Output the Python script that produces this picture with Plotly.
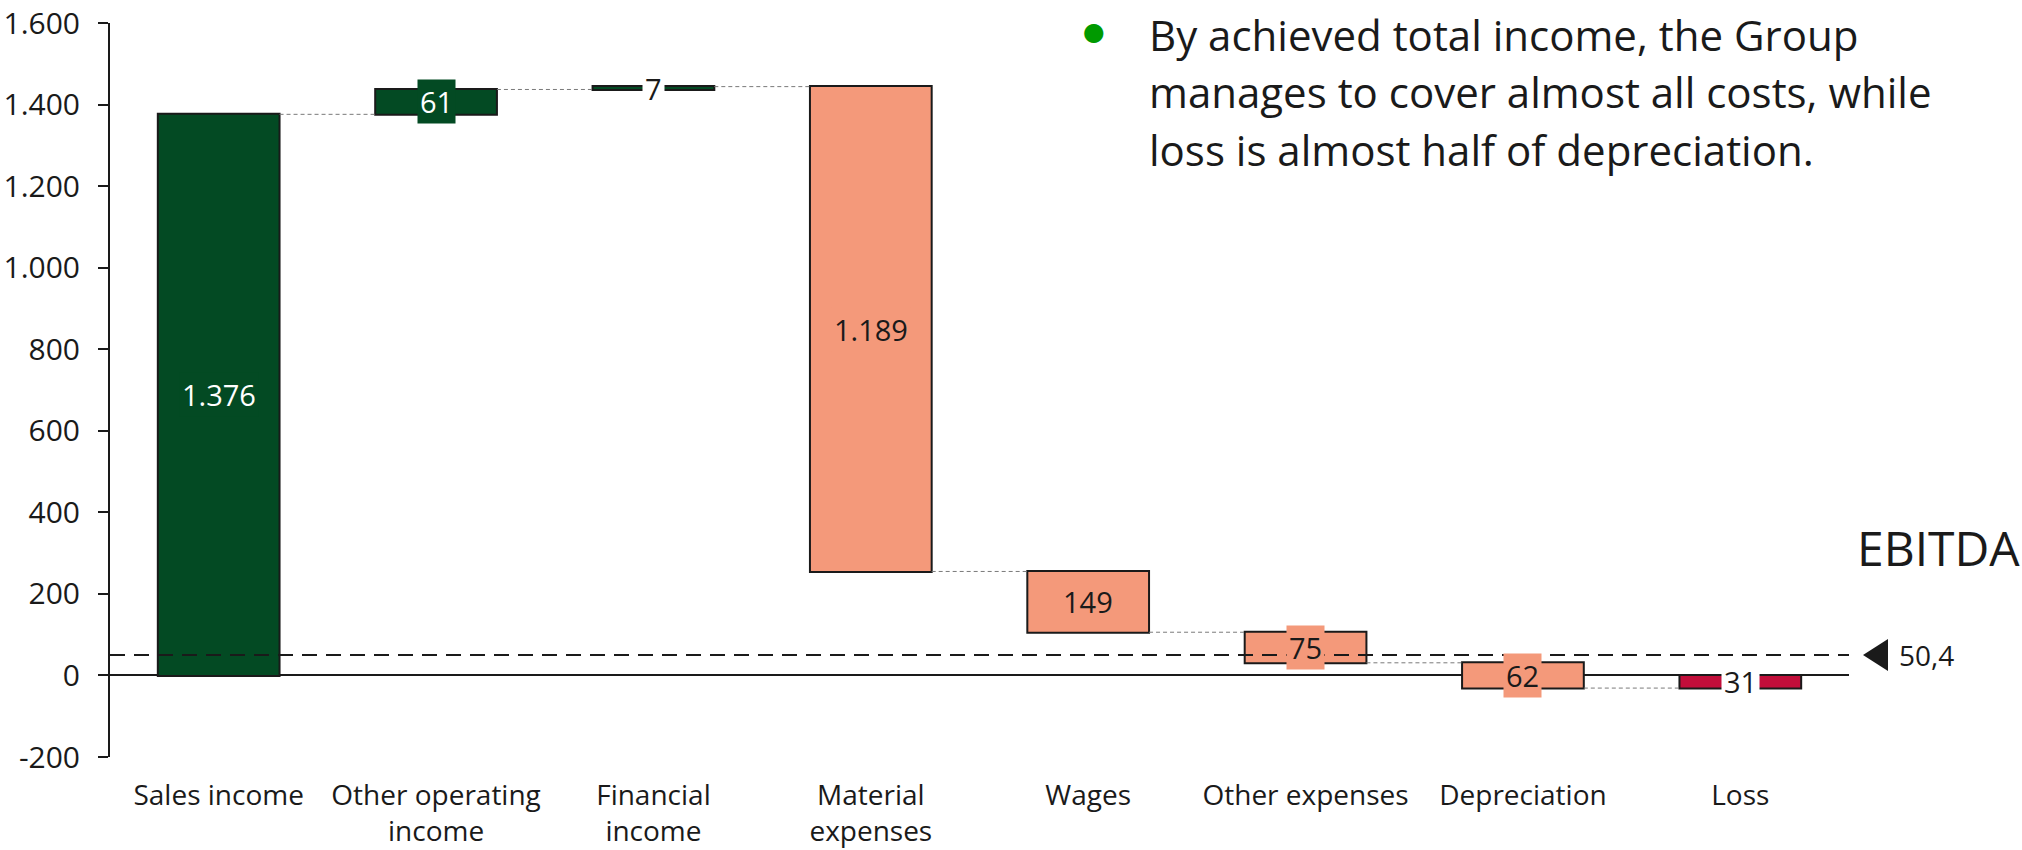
import numpy as np
import plotly.graph_objects as go

# Data (values in millions)
categories = ["Sales income", "Other operating income", "Financial income",
              "Material expenses", "Wages", "Other expenses", "Depreciation", "Loss"]
tick_labels = ["Sales income", "Other operating<br>income", "Financial<br>income",
               "Material<br>expenses", "Wages", "Other expenses", "Depreciation", "Loss"]
values = [1376, 61, 7, -1189, -149, -75, -62, -31]
measures = ["relative"] * 7 + ["total"]
ebitda = 50.4
y_ticks = [-200, 0, 200, 400, 600, 800, 1000, 1200, 1400, 1600]
y_tick_labels = ["-200", "0", "200", "400", "600", "800", "1.000", "1.200", "1.400", "1.600"]
note_lines = ["By achieved total income, the Group",
              "manages to cover almost all costs, while",
              "loss is almost half of depreciation."]

# Colours
green = '#034A23'
salmon = '#F4997A'
red = '#C20E3A'
ink = '#1A1A1A'
font_family = 'Open Sans'

fig = go.Figure()

fig.add_trace(go.Waterfall(
    x=categories, y=values, measure=measures,
    width=0.56, textinfo='none',
    increasing=dict(marker=dict(color=green, line=dict(color=ink, width=2))),
    decreasing=dict(marker=dict(color=salmon, line=dict(color=ink, width=2))),
    totals=dict(marker=dict(color=red, line=dict(color=ink, width=2))),
    connector=dict(mode='between', line=dict(color='#7A7A7A', width=1, dash='4px,3px')),
    showlegend=False,
))

# Value labels at the middle of each bar, with a coloured box behind the text
cum = np.cumsum(values[:7])
starts = np.concatenate([[0], cum[:-1]])
ends = cum
mids = list((starts + ends) / 2) + [cum[-1] / 2]
label_vals = [abs(v) for v in values[:7]] + [abs(cum[-1])]

for i, (cat, mid, v) in enumerate(zip(categories, mids, label_vals)):
    txt = f"{v:,}".replace(',', '.')
    if i < 2:
        bg, fc = green, 'white'
    elif i == 2 or i == 7:
        bg, fc = 'white', ink
    else:
        bg, fc = salmon, ink
    fig.add_annotation(x=cat, y=mid, text=txt, showarrow=False,
                       font=dict(size=29, color=fc, family=font_family),
                       bgcolor=bg, borderpad=2)

# EBITDA level: dashed line, triangle marker and labels
fig.add_shape(type='line', xref='paper', x0=0, x1=1, yref='y', y0=ebitda, y1=ebitda,
              line=dict(color=ink, width=2, dash='15px,9px'), layer='above')
fig.add_shape(type='path', xref='paper', xsizemode='pixel', xanchor=1,
              yref='y', ysizemode='pixel', yanchor=ebitda,
              path='M 14,0 L 39,16 L 39,-16 Z', fillcolor=ink, line=dict(width=0))
fig.add_annotation(xref='paper', x=1, xanchor='left', xshift=48, yref='y', y=ebitda,
                   yanchor='middle', text=f"{ebitda:.1f}".replace('.', ','), showarrow=False,
                   font=dict(size=28, color=ink, family=font_family))
fig.add_annotation(xref='paper', x=1, xanchor='left', xshift=6, yref='paper', y=0.2857,
                   yanchor='middle', text='EBITDA', showarrow=False,
                   font=dict(size=48, color=ink, family=font_family))

# Bullet note at top right
fig.add_annotation(xref='paper', x=0.566, xanchor='center', yref='paper', y=0.9887,
                   yanchor='middle', text='●', showarrow=False,
                   font=dict(size=25, color='#009A00', family='DejaVu Sans'))
for line_text, yp in zip(note_lines, [0.9846, 0.9069, 0.8280]):
    fig.add_annotation(xref='paper', x=0.5963, xanchor='left', yref='paper', y=yp,
                       yanchor='middle', text=line_text, showarrow=False,
                       font=dict(size=42, color=ink, family=font_family))

fig.update_layout(
    width=2022, height=850,
    margin=dict(l=110, r=173, t=23, b=93, autoexpand=False),
    plot_bgcolor='white', paper_bgcolor='white',
    font=dict(family=font_family, size=28, color=ink),
)

fig.update_xaxes(type='category', range=[-0.5, 7.5], tickvals=categories, ticktext=tick_labels,
                 showgrid=False, showline=False, ticks='', zeroline=False,
                 ticklabelstandoff=19, tickfont=dict(size=28))
fig.update_yaxes(range=[-200, 1600], tickvals=y_ticks, ticktext=y_tick_labels,
                 showgrid=False, showline=True, linecolor=ink, linewidth=2,
                 ticks='outside', ticklen=10, tickwidth=2, tickcolor=ink,
                 ticklabelstandoff=12, tickfont=dict(size=30),
                 zeroline=True, zerolinecolor=ink, zerolinewidth=2)

# drop the default page margin so the figure fills the window exactly
fig.write_html("out.html", config={'displayModeBar': False},
               post_script="document.body.style.margin='0';")
